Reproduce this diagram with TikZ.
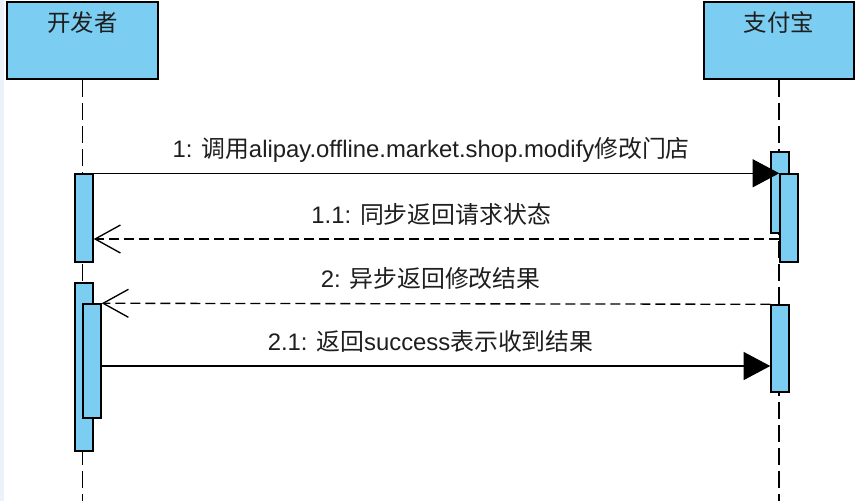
\documentclass[tikz,border=0pt]{standalone}
\usepackage{fontspec}
\setmainfont{Liberation Sans}
\newfontfamily\cjk{Noto Sans CJK SC}
\newcommand\zh[1]{{\cjk #1}}
\usetikzlibrary{arrows.meta}

\definecolor{actbleu}{RGB}{123,206,242}
\definecolor{bordbleu}{RGB}{236,242,250}
\definecolor{texte}{RGB}{30,30,30}

\begin{document}
\begin{tikzpicture}[x=0.75pt,y=-0.75pt,
  tete/.style={draw, line width=1.5pt, fill=actbleu, minimum width=113pt, minimum height=57.75pt,
    text height=18pt, text depth=31.5pt, inner ysep=4pt, font=\fontsize{17.6}{20}\selectfont, text=texte},
  activ/.style={draw, line width=1.1pt, fill=actbleu, minimum width=13.5pt, inner sep=0pt},
  ligne/.style={line width=1.1pt, dash pattern=on 12.75pt off 4.5pt},
  appel/.style={line width=1pt, -{Triangle[length=20pt,width=21pt]}},
  retour/.style={line width=1pt, dash pattern=on 7.5pt off 3.75pt,
    -{Straight Barb[length=19pt,width=21pt,line width=1pt]}},
  msg/.style={font=\fontsize{17.9}{20}\selectfont, text=texte, above=7.5pt, xshift=-4pt,
    inner sep=0pt, text height=14pt, text depth=4pt}]

\useasboundingbox (0,0) rectangle (865,501);
\fill[white] (0,0) rectangle (865,501);
\fill[bordbleu] (0,0) rectangle (4,501);

%% ================= participants ===========================================
\node[tete] (dev) at (82.5,40.5) {\zh{开发者}};
\node[tete] (ali) at (779,40.5)  {\zh{支付宝}};
\coordinate (bas) at (0,501);
\draw[ligne] (dev.south) -- (dev.south |- bas);
\draw[ligne] (ali.south) -- (ali.south |- bas);

%% ================= barres d'activation ====================================
\node[activ, minimum height=66pt]    (L1) at (84,218)    {};
\node[activ, minimum height=126pt]   (L2) at (84,367)    {};
\node[activ, minimum height=85.5pt]  (L3) at (92,361)    {};
\node[activ, minimum height=60.75pt] (R1) at (780,192.5) {};
\node[activ, minimum height=66pt]    (R2) at (789,218)   {};
\node[activ, minimum height=65.25pt] (R3) at (780,348.5) {};

%% ================= messages ===============================================
\coordinate (m11) at (0,239);
\coordinate (m21) at (0,366);
\draw[appel] (L1.north east) -- node[msg] (t1)
  {1: \zh{调用}alipay.offline.market.shop.modify\zh{修改门店}} (R2.north west);
\draw[retour] (R2.west |- m11) -- node[msg] (t11) {1.1: \zh{同步返回请求状态}} (L1.east |- m11);
\draw[retour] (R3.north west) -- node[msg] (t2) {2: \zh{异步返回修改结果}} (L3.north east);
\draw[appel] (L3.east |- m21) -- node[msg] (t21)
  {2.1: \zh{返回}success\zh{表示收到结果}} (R3.west |- m21);
\end{tikzpicture}
\end{document}
